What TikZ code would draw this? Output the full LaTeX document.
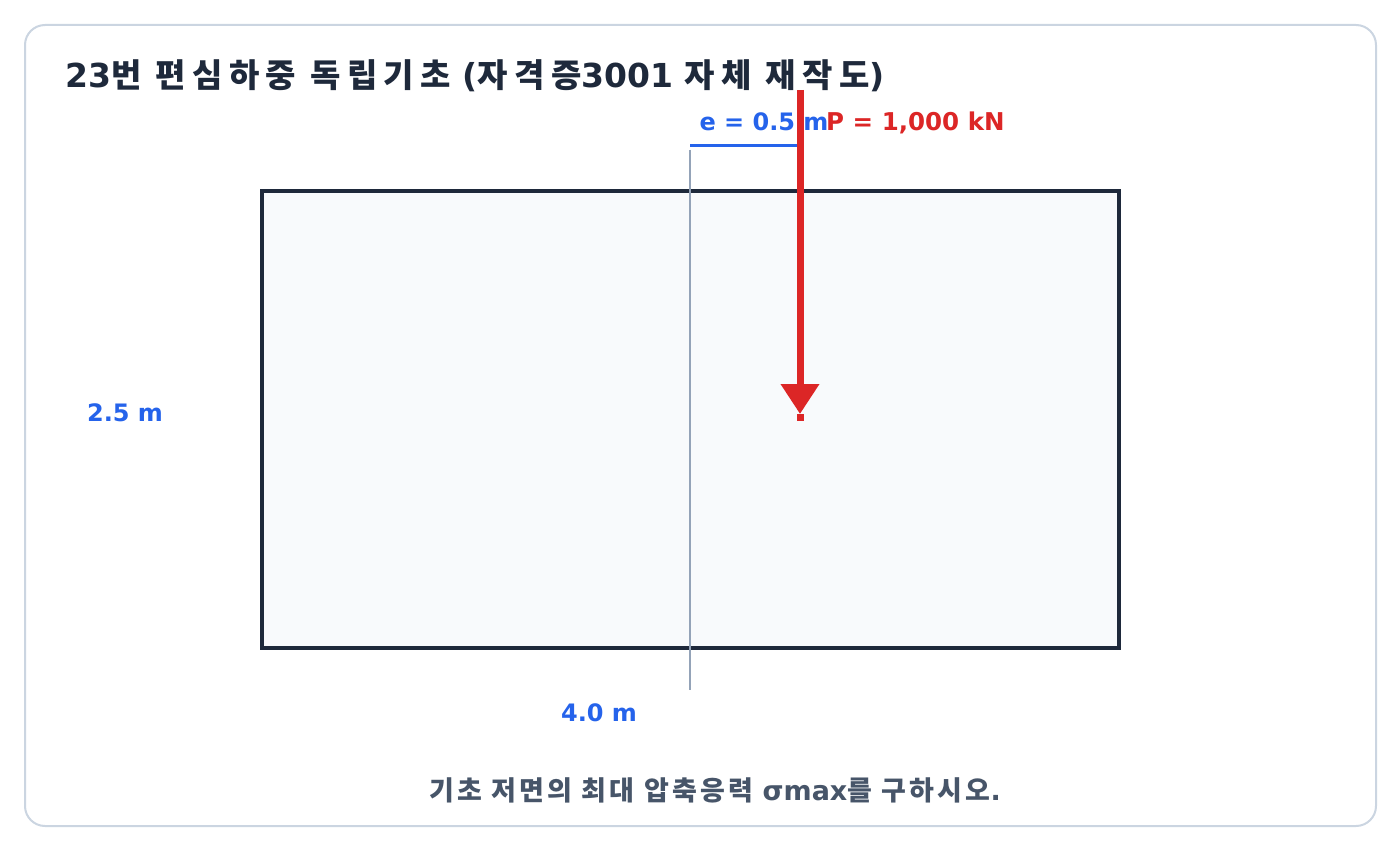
\documentclass[tikz,border=0pt]{standalone}
\usepackage{fontspec}
\setmainfont{DejaVu Sans}
\newfontfamily\krtitle{Noto Sans CJK KR}[LetterSpace=19.5]
\newfontfamily\krnote{Noto Sans CJK KR}[LetterSpace=12]
\newcommand{\hgt}[1]{{\krtitle #1}}
\newcommand{\hgn}[1]{{\krnote #1}}
\usetikzlibrary{arrows.meta}

\definecolor{framecol}{HTML}{CBD5E1}
\definecolor{inkcol}{HTML}{1E293B}
\definecolor{slabfill}{HTML}{F8FAFC}
\definecolor{axiscol}{HTML}{94A3B8}
\definecolor{dimcol}{HTML}{2563EB}
\definecolor{loadcol}{HTML}{DC2626}
\definecolor{notecol}{HTML}{475569}

\tikzset{
  dimlabel/.style={text=dimcol,font=\bfseries\fontsize{24}{28}\selectfont},
  loadlabel/.style={text=loadcol,font=\bfseries\fontsize{24.5}{28}\selectfont}
}

\begin{document}
\begin{tikzpicture}[x=1pt,y=-1pt]
  \useasboundingbox (0,0) rectangle (1400,850);
  \draw [framecol][line width=2pt][fill=white][rounded corners=20pt](25,25) rectangle (1376,826);
  \node (title) [anchor=base west][inner sep=0pt][text=inkcol][font=\bfseries\fontsize{33}{38}\selectfont] at (65,88) {23\hgt{번 편심하중 독립기초} (\hgt{자격증}3001 \hgt{자체 재작도})};
  % footing plan
  \draw [inkcol][line width=4pt][fill=slabfill](262,191) rectangle (1119,648);
  % centre line and eccentricity
  \coordinate (C1) at (690,150);
  \coordinate (C2) at (690,690);
  \draw [axiscol][line width=2.5pt](C1)--(C2);
  \coordinate (E1) at (690,146);
  \coordinate (E2) at (801,146);
  \draw [dimcol][line width=3pt](E1)--(E2);
  \node (ecc) [dimlabel][anchor=base] at (764,131) {e = 0.5 m};
  % load
  \coordinate (P1) at (800,90);
  \coordinate (P2) at (800,414);
  \coordinate (P3) at (800,421);
  \draw [loadcol][line width=7pt](P2)--(P3);
  \draw [loadcol][line width=7pt][-{Triangle[length=30pt,width=37pt]}](P1)--(P2);
  \node (load) [loadlabel][anchor=base west][inner sep=0pt] at (826,131) {P = 1,000 kN};
  % dimensions
  \node (width) [dimlabel][anchor=base] at (599,721) {4.0 m};
  \node (depth) [dimlabel][anchor=base] at (125,421) {2.5 m};
  \node (task) [anchor=base][text=notecol][font=\bfseries\fontsize{27}{32}\selectfont] at (715,800) {\hgn{기초 저면의 최대 압축응력} σmax\hgn{를 구하시오}.};
\end{tikzpicture}
\end{document}
